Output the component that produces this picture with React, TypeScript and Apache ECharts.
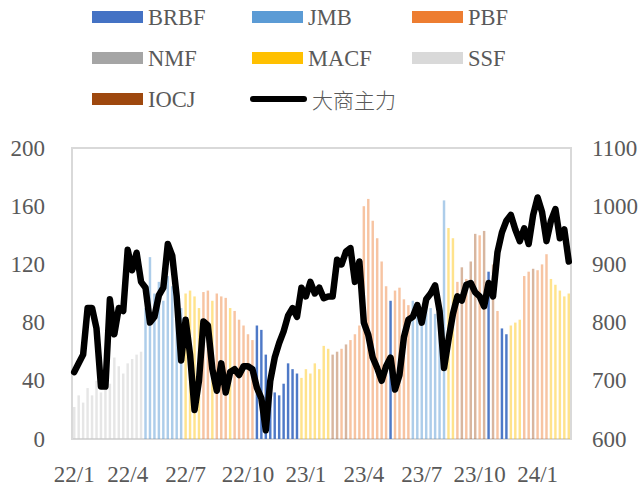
import React, { useEffect, useRef } from "react";
import * as echarts from "echarts";

// ---- data ----
const productNames = ["BRBF", "JMB", "PBF", "NMF", "MACF", "SSF", "IOCJ"];
const lineName = "大商主力";
const firstWeek = [2022, 0, 7]; // first Friday shown
const weekCount = 112;

// product of the day (one bar per week)
const weeklyProduct = [
  "SSF", "SSF", "SSF", "SSF", "SSF", "SSF", "SSF", "SSF", "SSF", "SSF",
  "SSF", "SSF", "SSF", "SSF", "SSF", "SSF", "JMB", "JMB", "JMB", "JMB",
  "JMB", "JMB", "JMB", "JMB", "JMB", "MACF", "MACF", "MACF", "MACF", "PBF",
  "PBF", "MACF", "PBF", "PBF", "PBF", "MACF", "PBF", "PBF", "PBF", "PBF",
  "PBF", "BRBF", "BRBF", "BRBF", "BRBF", "BRBF", "BRBF", "BRBF", "BRBF", "BRBF",
  "BRBF", "MACF", "MACF", "MACF", "MACF", "MACF", "MACF", "MACF", "IOCJ", "IOCJ",
  "PBF", "IOCJ", "PBF", "PBF", "PBF", "PBF", "PBF", "PBF", "PBF", "PBF",
  "PBF", "BRBF", "PBF", "PBF", "PBF", "PBF", "JMB", "JMB", "JMB", "JMB",
  "JMB", "JMB", "JMB", "JMB", "MACF", "MACF", "PBF", "IOCJ", "PBF", "IOCJ",
  "IOCJ", "PBF", "IOCJ", "BRBF", "IOCJ", "PBF", "BRBF", "BRBF", "MACF", "MACF",
  "MACF", "PBF", "PBF", "IOCJ", "PBF", "PBF", "PBF", "MACF", "MACF", "MACF",
  "MACF", "MACF",
];

// spread value (left axis)
const spreadValues = [
  22, 30, 25, 35, 30, 40, 32, 45, 38, 56,
  50, 45, 52, 55, 58, 60, 90, 125, 100, 108,
  95, 112, 105, 92, 90, 100, 102, 98, 90, 101,
  102, 95, 100, 98, 97, 90, 88, 82, 78, 72,
  68, 78, 75, 58, 38, 32, 30, 38, 52, 48,
  45, 42, 48, 45, 52, 48, 64, 62, 58, 60,
  62, 65, 68, 72, 78, 160, 165, 150, 138, 122,
  105, 95, 102, 104, 96, 92, 95, 92, 88, 95,
  90, 86, 88, 164, 145, 138, 108, 118, 110, 122,
  141, 140, 143, 115, 120, 88, 76, 72, 78, 80,
  82, 112, 115, 117, 116, 120, 127, 110, 106, 102,
  98, 100,
];

// DCE main contract (right axis)
const dceValues = [
  715, 730, 745, 825, 825, 790, 690, 690, 840, 780,
  825, 820, 925, 890, 920, 870, 860, 800, 810, 847,
  860, 935, 915, 845, 735, 805, 745, 650, 700, 802,
  795, 720, 683, 730, 680, 715, 720, 710, 725, 725,
  720, 688, 670, 615, 700, 740, 765, 785, 812, 825,
  810, 860, 845, 870, 850, 860, 842, 845, 845, 908,
  900, 922, 928, 870, 905, 800, 779, 740, 722, 700,
  725, 740, 685, 710, 775, 805, 810, 830, 800, 840,
  850, 864, 820, 722, 770, 815, 845, 838, 865, 868,
  852, 845, 828, 868, 845, 921, 955, 975, 985, 960,
  940, 962, 935, 985, 1015, 990, 940, 975, 995, 945,
  960, 905,
];

// ---- styles ----
const legendColors = ["#4472C4", "#5B9BD5", "#ED7D31", "#A5A5A5", "#FFC000", "#D9D9D9", "#9E480E"];
const barColors = [
  "rgba(68,114,196,0.95)",
  "rgba(91,155,213,0.5)",
  "rgba(237,125,49,0.45)",
  "rgba(165,165,165,0.6)",
  "rgba(255,192,0,0.45)",
  "rgba(200,200,200,0.45)",
  "rgba(158,72,14,0.4)",
];
const textColor = "#595959";
const serif = "Liberation Serif";

function buildDates(): string[] {
  const out: string[] = [];
  const t0 = Date.UTC(firstWeek[0], firstWeek[1], firstWeek[2]);
  for (let i = 0; i < weekCount; i++) {
    out.push(new Date(t0 + i * 7 * 86400000).toISOString().slice(0, 10));
  }
  return out;
}

export default function App() {
  const ref = useRef<HTMLDivElement>(null);
  useEffect(() => {
    if (!ref.current) return;
    const chart = echarts.init(ref.current, undefined, { renderer: "svg" });
    const dates = buildDates();
    const idx = (n: string) => productNames.indexOf(n);
    const legendItem = (n: string) => ({ name: n, icon: "rect", itemStyle: { color: legendColors[idx(n)], opacity: 1 } });
    const legendBase = {
      orient: "vertical",
      top: 5,
      padding: 0,
      itemWidth: 51,
      itemHeight: 12,
      itemGap: 17,
      selectedMode: false,
      textStyle: { fontFamily: serif, fontSize: 22.5, color: textColor, lineHeight: 24 },
    };
    const barSeries = productNames.map((name, k) => ({
      name,
      type: "bar",
      stack: "spread",
      yAxisIndex: 0,
      barWidth: "55%",
      itemStyle: { color: barColors[k] },
      data: spreadValues.map((v, i) => (weeklyProduct[i] === name ? v : "-")),
    }));
    chart.setOption({
      animation: false,
      backgroundColor: "#ffffff",
      legend: [
        { ...legendBase, left: 92, data: ["BRBF", "NMF", "IOCJ"].map(legendItem) },
        { ...legendBase, left: 252, data: ["JMB", "MACF"].map(legendItem) },
        { ...legendBase, left: 412, data: ["PBF", "SSF"].map(legendItem) },
        {
          ...legendBase,
          left: 250,
          top: 87,
          itemWidth: 57,
          itemHeight: 7,
          data: [
            {
              name: lineName,
              icon: "path://M3,0 H54 A3,3 0 0 1 54,6 H3 A3,3 0 0 1 3,0 Z",
              itemStyle: { color: "#000000" },
              textStyle: { fontFamily: "Noto Sans CJK SC", fontWeight: 300, fontSize: 21, color: textColor, lineHeight: 24 },
            },
          ],
        },
      ],
      grid: {
        left: 72,
        right: 72,
        top: 148,
        bottom: 44,
        show: true,
        borderColor: "#D9D9D9",
        borderWidth: 2,
        backgroundColor: "transparent",
      },
      xAxis: {
        type: "category",
        data: dates,
        boundaryGap: true,
        axisLine: { show: false },
        axisTick: { show: false },
        axisLabel: {
          interval: (_i: number, v: string) => {
            const m = +v.slice(5, 7);
            const d = +v.slice(8, 10);
            return (m - 1) % 3 === 0 && d <= 7;
          },
          formatter: (v: string) => v.slice(2, 4) + "/" + +v.slice(5, 7),
          fontFamily: serif,
          fontSize: 23,
          color: textColor,
          margin: 24,
        },
        splitLine: { show: false },
      },
      yAxis: [
        {
          type: "value",
          min: 0,
          max: 200,
          interval: 40,
          axisLine: { show: false },
          axisTick: { show: false },
          splitLine: { show: false },
          axisLabel: { fontFamily: serif, fontSize: 23, color: textColor, margin: 27 },
        },
        {
          type: "value",
          min: 600,
          max: 1100,
          interval: 100,
          axisLine: { show: false },
          axisTick: { show: false },
          splitLine: { show: false },
          axisLabel: {
            fontFamily: serif,
            fontSize: 23,
            color: textColor,
            margin: 21,
            formatter: (v: number) => String(v),
          },
        },
      ],
      series: [
        ...barSeries,
        {
          name: lineName,
          type: "line",
          yAxisIndex: 1,
          data: dceValues,
          symbol: "none",
          showSymbol: false,
          z: 10,
          lineStyle: { color: "#000000", width: 6.5, cap: "round", join: "round" },
          itemStyle: { color: "#000000" },
        },
      ],
    });
    return () => chart.dispose();
  }, []);
  return (
    <div
      ref={ref}
      style={{ position: "fixed", left: 0, top: 0, width: 643, height: 486, background: "#fff" }}
    />
  );
}
